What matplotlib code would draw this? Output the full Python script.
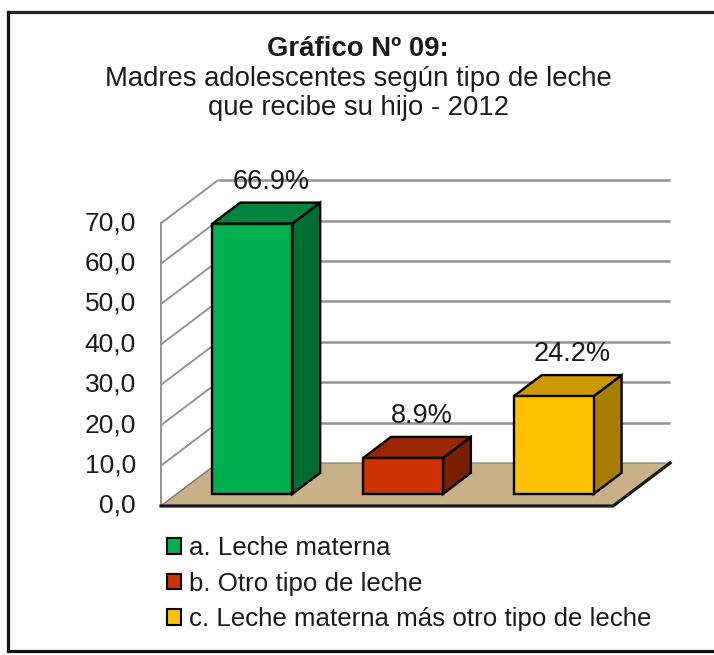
import matplotlib
matplotlib.use('Agg')
import matplotlib.pyplot as plt
from matplotlib.patches import Polygon, Rectangle, Patch
from matplotlib.lines import Line2D

# ---------------- data ----------------
categories = ['a. Leche materna', 'b. Otro tipo de leche',
              'c. Leche materna más otro tipo de leche']
values = [66.9, 8.9, 24.2]
value_labels = ['66.9%', '8.9%', '24.2%']
y_ticks = [0, 10, 20, 30, 40, 50, 60, 70]
y_tick_labels = ['0,0', '10,0', '20,0', '30,0', '40,0', '50,0', '60,0', '70,0']
title_lines = ['Gráfico Nº 09:', 'Madres adolescentes según tipo de leche',
               'que recibe su hijo - 2012']

# ---------------- style ----------------
front_colors = ['#00B050', '#CC3300', '#FFC000']
top_colors = ['#00843C', '#992600', '#CC9A00']
side_colors = ['#006E32', '#7A2000', '#A87E00']
floor_color = '#C8B089'
grid_color = '#939393'
FONT = 'Liberation Sans'
FS = 19

W, H = 714, 655
fig = plt.figure(figsize=(W / 100, H / 100), dpi=100)
fig.patch.set_facecolor('white')
ax = fig.add_axes([0, 0, 1, 1])
ax.axis('off')

# scale: pixels per category and per value unit
PX_CAT = 150.7
PX_VAL = 4.04
X0_PX, Y0_PX = 161, 506
ax.set_xlim(-0.5 - X0_PX / PX_CAT, -0.5 + (W - X0_PX) / PX_CAT)
ax.set_ylim(-(H - Y0_PX) / PX_VAL, Y0_PX / PX_VAL)

DX = 57 / PX_CAT   # depth offset (category units)
DY = 43 / PX_VAL   # depth offset (value units)
n = len(categories)
xl, xr = -0.5, n - 0.5
ymax = y_ticks[-1]

# walls: gridlines
for v in y_ticks:
    ax.plot([xl, xl + DX], [v, v + DY], color=grid_color, lw=1.4, zorder=1,
            solid_capstyle='butt')
    if v > 0:
        ax.plot([xl + DX, xr + DX], [v + DY, v + DY], color=grid_color, lw=1.8,
                zorder=1, solid_capstyle='butt')
ax.plot([xl, xl], [0, ymax], color=grid_color, lw=1.4, zorder=1)

# floor
floor = Polygon([(xl, 0), (xr, 0), (xr + DX, DY), (xl + DX, DY)], closed=True,
                facecolor=floor_color, edgecolor='#7a7a7a', lw=0.8, zorder=2)
ax.add_patch(floor)
ax.plot([xl, xr, xr + DX], [0, 0, DY], color='#1a1a1a', lw=2.3, zorder=2,
        solid_joinstyle='miter')

# tick labels
for v, lab in zip(y_ticks, y_tick_labels):
    ax.text(xl - 25 / PX_CAT, v, lab, ha='right', va='center', fontsize=FS,
            family=FONT, color='#1a1a1a', zorder=5)

# bars
bw = 0.53
d0, d1 = 0.28, 0.77
ox, oy = (d1 - d0) * DX, (d1 - d0) * DY
for i, v in enumerate(values):
    x0 = i - bw / 2 + d0 * DX
    y0 = d0 * DY
    side = Polygon([(x0 + bw, y0), (x0 + bw + ox, y0 + oy),
                    (x0 + bw + ox, y0 + v + oy), (x0 + bw, y0 + v)],
                   closed=True, facecolor=side_colors[i], edgecolor='black',
                   lw=1.7, zorder=3, joinstyle='miter')
    top = Polygon([(x0, y0 + v), (x0 + bw, y0 + v),
                   (x0 + bw + ox, y0 + v + oy), (x0 + ox, y0 + v + oy)],
                  closed=True, facecolor=top_colors[i], edgecolor='black',
                  lw=1.7, zorder=3, joinstyle='miter')
    front = Rectangle((x0, y0), bw, v, facecolor=front_colors[i],
                      edgecolor='black', lw=1.7, zorder=4, joinstyle='miter')
    for p in (side, top, front):
        ax.add_patch(p)
    ax.text(i + (d0 + d1) / 2 * DX + 5 / PX_CAT, v + d1 * DY + 21 / PX_VAL,
            value_labels[i], ha='center', va='center', fontsize=19.5,
            family=FONT, color='#1a1a1a', zorder=6)

# title
title_y = [49, 79, 108]
for k, (line, yp) in enumerate(zip(title_lines, title_y)):
    fig.text(358 / W, 1 - yp / H, line, ha='center', va='center',
             fontsize=19.8, family=FONT, color='#1a1a1a',
             fontweight='bold' if k == 0 else 'normal')

# legend
handles = [Patch(facecolor=c, edgecolor='black', lw=1.5) for c in front_colors]
leg = fig.legend(handles, categories, loc='upper left',
                 bbox_to_anchor=(167 / W, 1 - 536 / H),
                 bbox_transform=fig.transFigure, frameon=False,
                 prop={'family': FONT, 'size': 18.6},
                 handlelength=0.55, handleheight=0.55, handletextpad=0.3,
                 borderpad=0, borderaxespad=0, labelspacing=0.45)
for t in leg.get_texts():
    t.set_color('#1a1a1a')

# outer frame (top, left, bottom)
lw_frame = 2.3
fig.add_artist(Line2D([8 / W, 1.0], [1 - 12 / H, 1 - 12 / H], color='#222222',
                      lw=lw_frame, transform=fig.transFigure))
fig.add_artist(Line2D([8 / W, 8 / W], [1 - 12 / H, 1 - 651 / H], color='#111111',
                      lw=lw_frame, transform=fig.transFigure))
fig.add_artist(Line2D([8 / W, 1.0], [1 - 651 / H, 1 - 651 / H], color='#111111',
                      lw=lw_frame, transform=fig.transFigure))

fig.savefig('out.png', dpi=100, facecolor='white')
